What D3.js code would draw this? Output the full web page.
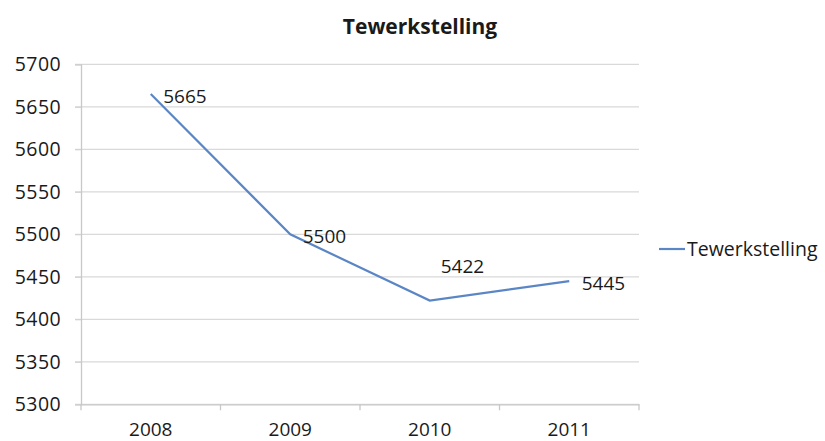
<!DOCTYPE html>
<html><head><meta charset="utf-8">
<script src="https://cdn.jsdelivr.net/npm/d3@7"></script>
<style>body{margin:0;background:#fff}svg{display:block}text{font-family:"Open Sans",sans-serif;fill:#1a1a1a}</style>
</head><body>
<svg id="c" width="825" height="441"></svg>
<script>
const categories = ["2008","2009","2010","2011"];
const values = [5665, 5500, 5422, 5445];
const yTicks = [5300,5350,5400,5450,5500,5550,5600,5650,5700];
const seriesName = "Tewerkstelling";
const title = "Tewerkstelling";

const svg = d3.select("#c");
const L = 81, R = 639, T = 64.3, B = 404.3;
const x = d3.scaleBand().domain(categories).range([L, R]);
const y = d3.scaleLinear().domain([5300, 5700]).range([B, T]);
const color = "#5b86c5";
const fs = "19px";

// gridlines
svg.append("g").selectAll("line").data(yTicks).join("line")
  .attr("x1", L - 6).attr("x2", R)
  .attr("y1", d => y(d)).attr("y2", d => y(d))
  .attr("stroke", "#d9d9d9").attr("stroke-width", 1.3);

// y axis
const ya = svg.append("g").attr("transform", `translate(${L},0)`)
  .call(d3.axisLeft(y).tickValues(yTicks).tickSize(6).tickPadding(14).tickFormat(d3.format("d")));
ya.select(".domain").attr("stroke", "#c8c8c8").attr("stroke-width", 1.3);
ya.selectAll(".tick line").attr("stroke", "#d0d0d0");
ya.selectAll("text").style("font-size", "19.5px").attr("letter-spacing", "0.4px").attr("fill", "#1a1a1a");

// x axis
const xa = svg.append("g").attr("transform", `translate(0,${B})`)
  .call(d3.axisBottom(x).tickSize(0).tickPadding(18));
xa.select(".domain").attr("stroke", "#c8c8c8").attr("stroke-width", 1.3);
xa.selectAll("text").style("font-size", fs).attr("fill", "#1a1a1a");
const bounds = categories.map(c => x(c)).concat([R]);
xa.append("g").selectAll("line").data(bounds).join("line")
  .attr("x1", d => d).attr("x2", d => d).attr("y1", 0).attr("y2", 6)
  .attr("stroke", "#c8c8c8").attr("stroke-width", 1.3);

// line
const cx = c => x(c) + x.bandwidth() / 2;
const pts = categories.map((c, i) => ({c, v: values[i]}));
svg.append("path").datum(pts)
  .attr("fill", "none").attr("stroke", color).attr("stroke-width", 2.2)
  .attr("d", d3.line().x(d => cx(d.c)).y(d => y(d.v)));

// data labels
const labelShift = [[12.5, 8.5], [12.5, 8.5], [11, -28], [12.5, 8.5]];
svg.append("g").selectAll("text").data(pts).join("text")
  .attr("x", (d, i) => cx(d.c) + labelShift[i][0])
  .attr("y", (d, i) => y(d.v) + labelShift[i][1])
  .style("font-size", fs)
  .text(d => d.v);

// title
svg.append("text").attr("x", 420).attr("y", 34).attr("text-anchor", "middle")
  .style("font-size", "21px").style("font-weight", "bold")
  .text(title);

// legend
svg.append("line").attr("x1", 659).attr("x2", 685).attr("y1", 249).attr("y2", 249)
  .attr("stroke", color).attr("stroke-width", 2.2);
svg.append("text").attr("x", 687).attr("y", 255.5)
  .style("font-size", "19.5px").text(seriesName);
</script>
</body></html>
